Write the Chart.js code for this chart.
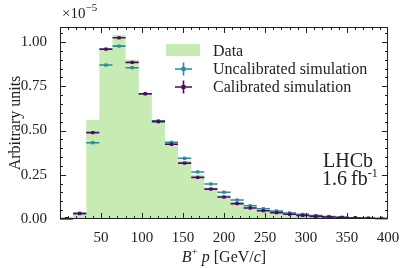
<!DOCTYPE html>
<html>
<head>
<meta charset="utf-8">
<script src="https://cdn.jsdelivr.net/npm/chart.js@4.4.1/dist/chart.umd.min.js"></script>
<style>
  html, body { margin: 0; padding: 0; background: #fff; }
  #wrap { width: 407px; height: 268px; }
</style>
</head>
<body>
<div id="wrap"><canvas id="chart"></canvas></div>
<script>
// bin edges in GeV/c (25 bins of 16)
const binEdges = [0, 16, 32, 48, 64, 80, 96, 112, 128, 144, 160, 176, 192, 208, 224, 240,
  256, 272, 288, 304, 320, 336, 352, 368, 384, 400];
// values in units of 1e-5
const dataVals = [0, 0.03, 0.56, 0.96, 1.04, 0.90, 0.71, 0.56, 0.43, 0.33, 0.25, 0.18, 0.135,
  0.095, 0.068, 0.05, 0.038, 0.028, 0.02, 0.015, 0.011, 0.008, 0.006, 0.004, 0.003];
const uncalVals = [0.001, 0.03, 0.431, 0.870, 0.977, 0.855, 0.708, 0.555, 0.433, 0.343, 0.266,
  0.198, 0.151, 0.107, 0.075, 0.058, 0.045, 0.034, 0.026, 0.019, 0.014, 0.010, 0.007, 0.005, 0.003];
const calVals = [0.002, 0.032, 0.488, 0.960, 1.024, 0.885, 0.708, 0.550, 0.422, 0.316, 0.235,
  0.169, 0.124, 0.087, 0.062, 0.047, 0.036, 0.027, 0.020, 0.015, 0.011, 0.008, 0.006, 0.004, 0.003];
const uncalErr = [0.001, 0.002, 0.004, 0.004, 0.004, 0.004, 0.004, 0.003, 0.003, 0.003, 0.002,
  0.002, 0.002, 0.002, 0.001, 0.001, 0.001, 0.001, 0.001, 0.001, 0.001, 0.001, 0.001, 0.001, 0.001];
const calErr = [0.001, 0.002, 0.004, 0.004, 0.004, 0.004, 0.004, 0.003, 0.003, 0.003, 0.002,
  0.002, 0.002, 0.002, 0.001, 0.001, 0.001, 0.001, 0.001, 0.001, 0.001, 0.001, 0.001, 0.001, 0.001];
const xTicks = [50, 100, 150, 200, 250, 300, 350, 400];
const yTicks = [0, 0.25, 0.5, 0.75, 1.0];

const SERIF = '"Liberation Serif", "DejaVu Serif", serif';
const GREEN = '#c6ecb4';
const CYAN = '#2a8b9c';
const PURPLE = '#4e0b62';

const centers = binEdges.slice(0, -1).map((e, i) => (e + binEdges[i + 1]) / 2);

// step outline for the data histogram
const stepPts = dataVals.map((v, i) => ({ x: binEdges[i], y: v }));
stepPts.push({ x: binEdges[binEdges.length - 1], y: dataVals[dataVals.length - 1] });

// horizontal bin-width bars + vertical errors, under the markers
const errorBars = {
  id: 'errorBars',
  beforeDatasetDraw(chart, args) {
    const ds = chart.data.datasets[args.index];
    if (!ds.errs) return;
    const { ctx, scales: { x, y } } = chart;
    ctx.save();
    ctx.strokeStyle = ds.borderColor;
    ctx.lineWidth = 1.6;
    ds.data.forEach((pt, i) => {
      const px = x.getPixelForValue(pt.x);
      const py = y.getPixelForValue(pt.y);
      ctx.beginPath();
      ctx.moveTo(x.getPixelForValue(binEdges[i]), py);
      ctx.lineTo(x.getPixelForValue(binEdges[i + 1]), py);
      ctx.moveTo(px, y.getPixelForValue(pt.y - ds.errs[i]));
      ctx.lineTo(px, y.getPixelForValue(pt.y + ds.errs[i]));
      ctx.stroke();
    });
    ctx.restore();
  }
};

function drawRich(ctx, parts, x, y, align) {
  // parts: [text, font, dy]
  let w = 0;
  parts.forEach(p => { ctx.font = p[1]; w += ctx.measureText(p[0]).width; });
  let cx = align === 'center' ? x - w / 2 : x;
  ctx.textAlign = 'left';
  parts.forEach(p => {
    ctx.font = p[1];
    ctx.fillText(p[0], cx, y + (p[2] || 0));
    cx += ctx.measureText(p[0]).width;
  });
}

const decorations = {
  id: 'decorations',
  afterDraw(chart) {
    const { ctx, chartArea: a, scales: { x, y } } = chart;
    ctx.save();
    ctx.strokeStyle = '#222';
    ctx.lineWidth = 1;
    ctx.strokeRect(a.left + 0.5, a.top + 0.5, a.width - 1, a.height - 1);

    // inward ticks on all four sides
    ctx.beginPath();
    for (let v = 10; v < 400; v += 10) {
      const px = Math.round(x.getPixelForValue(v)) + 0.5;
      const len = v % 50 === 0 ? 6 : 3;
      ctx.moveTo(px, a.bottom); ctx.lineTo(px, a.bottom - len);
      ctx.moveTo(px, a.top); ctx.lineTo(px, a.top + len);
    }
    for (let k = 1; k * 0.05 < 1.085; k++) {
      const v = k * 0.05;
      const py = Math.round(y.getPixelForValue(v)) + 0.5;
      const len = k % 5 === 0 ? 6 : 3;
      ctx.moveTo(a.left, py); ctx.lineTo(a.left + len, py);
      ctx.moveTo(a.right, py); ctx.lineTo(a.right - len, py);
    }
    ctx.stroke();

    ctx.fillStyle = '#222';
    ctx.textBaseline = 'alphabetic';
    // multiplier
    drawRich(ctx, [['\u00d710', '15px ' + SERIF], ['\u22125', '11px ' + SERIF, -7]], a.left + 2, 18, 'left');

    // x title
    drawRich(ctx, [
      ['B', 'italic 16px ' + SERIF],
      ['+', '11px ' + SERIF, -7],
      [' ', '16px ' + SERIF],
      ['p', 'italic 16px ' + SERIF],
      [' [GeV/', '16px ' + SERIF],
      ['c', 'italic 16px ' + SERIF],
      [']', '16px ' + SERIF]
    ], 224, 262, 'center');

    // y title
    ctx.save();
    ctx.translate(16, (a.top + a.bottom) / 2);
    ctx.rotate(-Math.PI / 2);
    ctx.textAlign = 'center';
    ctx.textBaseline = 'middle';
    ctx.font = '16px ' + SERIF;
    ctx.fillText('Arbitrary units', 0, 0);
    ctx.restore();

    // LHCb label
    ctx.font = '20px ' + SERIF;
    ctx.textAlign = 'left';
    ctx.fillText('LHCb', 323, 167);
    drawRich(ctx, [['1.6\u2009fb', '20px ' + SERIF], ['-1', '12px ' + SERIF, -8]], 322, 185, 'left');

    // legend
    ctx.fillStyle = GREEN;
    ctx.fillRect(166, 44, 34, 12);
    [[CYAN, 69], [PURPLE, 87]].forEach(([col, cy]) => {
      ctx.strokeStyle = col;
      ctx.fillStyle = col;
      ctx.lineWidth = 1.6;
      ctx.beginPath();
      ctx.moveTo(175, cy); ctx.lineTo(192, cy);
      ctx.moveTo(183.5, cy - 6.5); ctx.lineTo(183.5, cy + 6.5);
      ctx.stroke();
      ctx.fillRect(181.5, cy - 2, 4, 4);
    });
    ctx.fillStyle = '#222';
    ctx.font = '16px ' + SERIF;
    ctx.fillText('Data', 213, 55.5);
    ctx.fillText('Uncalibrated simulation', 213, 74);
    ctx.fillText('Calibrated simulation', 213, 92.3);
    ctx.restore();
  }
};

new Chart(document.getElementById('chart'), {
  type: 'scatter',
  data: {
    datasets: [
      {
        type: 'line',
        data: stepPts,
        stepped: 'before',
        fill: 'origin',
        backgroundColor: GREEN,
        borderWidth: 0,
        pointRadius: 0,
        order: 3,
      },
      {
        data: uncalVals.map((v, i) => ({ x: centers[i], y: v })),
        errs: uncalErr,
        borderColor: CYAN,
        backgroundColor: CYAN,
        pointStyle: 'rect',
        pointRadius: 2.3,
        borderWidth: 0,
        order: 2,
      },
      {
        data: calVals.map((v, i) => ({ x: centers[i], y: v })),
        errs: calErr,
        borderColor: PURPLE,
        backgroundColor: PURPLE,
        pointStyle: 'rect',
        pointRadius: 2.3,
        borderWidth: 0,
        order: 1,
      },
    ],
  },
  options: {
    responsive: true,
    maintainAspectRatio: false,
    animation: false,
    layout: { padding: { left: 0, right: 19, top: 27, bottom: 0 } },
    plugins: {
      legend: { display: false },
      tooltip: { enabled: false },
    },
    scales: {
      x: {
        type: 'linear',
        min: 0,
        max: 400,
        afterBuildTicks: (s) => { s.ticks = xTicks.map(v => ({ value: v })); },
        afterFit: (s) => { s.height = 49; },
        grid: { display: false },
        border: { display: false },
        ticks: {
          color: '#222',
          padding: 2,
          maxRotation: 0,
          font: { family: SERIF, size: 15 },
        },
      },
      y: {
        min: 0,
        max: 1.085,
        afterBuildTicks: (s) => { s.ticks = yTicks.map(v => ({ value: v })); },
        afterFit: (s) => { s.width = 60; },
        grid: { display: false },
        border: { display: false },
        ticks: {
          color: '#222',
          padding: 5,
          font: { family: SERIF, size: 15 },
          callback: (v) => v.toFixed(2),
        },
      },
    },
  },
  plugins: [errorBars, decorations],
});
</script>
</body>
</html>
